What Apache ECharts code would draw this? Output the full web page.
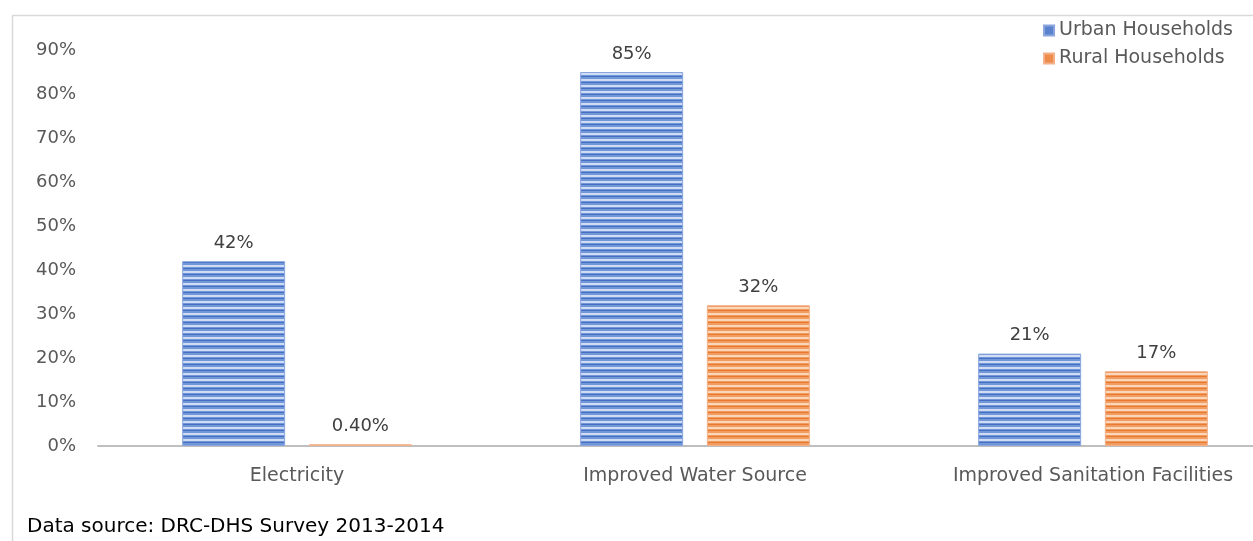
<!DOCTYPE html>
<html><head><meta charset="utf-8">
<script src="https://cdn.jsdelivr.net/npm/echarts@6/dist/echarts.min.js"></script>
<style>html,body{margin:0;padding:0;background:#fff}#c{width:1253px;height:541px}</style>
</head><body><div id="c"></div>
<script>
const categories = ['Electricity', 'Improved Water Source', 'Improved Sanitation Facilities'];
const urban = [42, 85, 21];
const rural = [0.4, 32, 17];
const yTicks = [0, 10, 20, 30, 40, 50, 60, 70, 80, 90];
const seriesNames = ['Urban Households', 'Rural Households'];
const sourceNote = 'Data source: DRC-DHS Survey 2013-2014';

function stripe(base, light, dark) {
  const c = document.createElement('canvas');
  c.width = 8; c.height = 6;
  const g = c.getContext('2d');
  g.fillStyle = base; g.fillRect(0, 0, 8, 6);
  g.fillStyle = light; g.fillRect(0, 1, 8, 2);
  g.fillStyle = dark; g.fillRect(0, 4, 8, 1);
  return { image: c, repeat: 'repeat' };
}
const blueFill = stripe('#7297d9', '#cfdcf4', '#4570c4');
const orangeFill = stripe('#f19d62', '#fbd6bb', '#e8792f');

const fmt = p => (p.value < 1 ? p.value.toFixed(2) : p.value) + '%';
const font = 'DejaVu Sans';

const chart = echarts.init(document.getElementById('c'));
chart.setOption({
  animation: false,
  graphic: [
    { type: 'rect', left: 10, top: 13, shape: { width: 1300, height: 600 },
      style: { fill: 'none', stroke: '#d9d9d9', lineWidth: 1.5 }, z: -1 },
    { type: 'text', left: 27, top: 517,
      style: { text: sourceNote, fill: '#000', font: '20px "DejaVu Sans"' } }
  ],
  legend: {
    right: 15, top: 16, orient: 'vertical', itemGap: 9,
    itemWidth: 10, itemHeight: 10, icon: 'rect',
    textStyle: { fontSize: 19, color: '#595959', fontFamily: font },
    data: [
      { name: seriesNames[0], itemStyle: { color: '#5b82cf' } },
      { name: seriesNames[1], itemStyle: { color: '#ee8a4a' } }
    ]
  },
  grid: { left: 98, width: 1194, top: 50, height: 396, outerBoundsMode: 'none', containLabel: false },
  xAxis: {
    type: 'category', data: categories,
    axisLine: { lineStyle: { color: '#bfbfbf', width: 2 } },
    axisTick: { show: false },
    axisLabel: { color: '#595959', fontSize: 19, fontFamily: font, margin: 21, interval: 0 },
  },
  yAxis: {
    type: 'value', min: 0, max: 90, interval: 10,
    splitLine: { show: false },
    axisLine: { show: false }, axisTick: { show: false },
    axisLabel: { color: '#595959', fontSize: 18, fontFamily: font, margin: 22,
      formatter: v => yTicks.includes(v) ? v + '%' : '' }
  },
  series: [
    { name: seriesNames[0], type: 'bar', data: urban, barWidth: 103, barGap: '23%',
      itemStyle: { color: blueFill, borderColor: '#8aa5dc', borderWidth: 1 },
      label: { show: true, position: 'top', distance: 9, color: '#404040', fontSize: 18, fontFamily: font, formatter: fmt } },
    { name: seriesNames[1], type: 'bar', data: rural, barWidth: 103,
      itemStyle: { color: orangeFill, borderColor: '#f2b089', borderWidth: 1 },
      label: { show: true, position: 'top', distance: 9, color: '#404040', fontSize: 18, fontFamily: font, formatter: fmt } }
  ]
});
</script></body></html>
